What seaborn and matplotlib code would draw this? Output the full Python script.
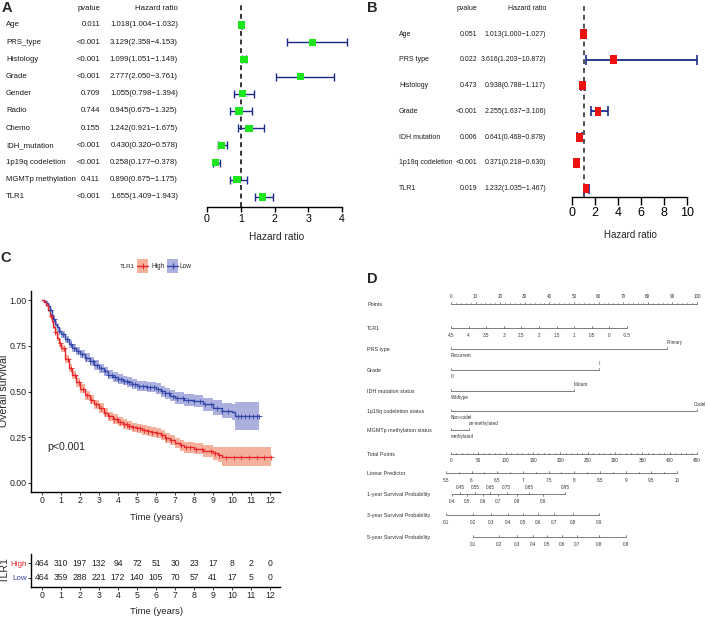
import numpy as np
import matplotlib
matplotlib.use("Agg")
import matplotlib.pyplot as plt
import seaborn as sns
from matplotlib.patches import Rectangle
from matplotlib.transforms import blended_transform_factory as blend

sns.set_style("white")
REG = ["Liberation Sans", "DejaVu Sans"]
plt.rcParams["font.family"] = REG
plt.rcParams["axes.unicode_minus"] = False

# ---------------- Panel A: univariate Cox ----------------
a_vars = ["Age", "PRS_type", "Histology", "Grade", "Gender", "Radio", "Chemo",
          "IDH_mutation", "1p19q codeletion", "MGMTp methylation", "TLR1"]
a_p = ["0.011", "<0.001", "<0.001", "<0.001", "0.709", "0.744", "0.155",
       "<0.001", "<0.001", "0.411", "<0.001"]
a_hr = [1.018, 3.129, 1.099, 2.777, 1.055, 0.945, 1.242, 0.430, 0.258, 0.890, 1.655]
a_lo = [1.004, 2.358, 1.051, 2.050, 0.798, 0.675, 0.921, 0.320, 0.177, 0.675, 1.409]
a_hi = [1.032, 4.153, 1.149, 3.761, 1.394, 1.325, 1.675, 0.578, 0.378, 1.175, 1.943]
a_ticks = [0, 1, 2, 3, 4]

# ---------------- Panel B: multivariate Cox ----------------
b_vars = ["Age", "PRS type", "Histology", "Grade", "IDH mutation", "1p19q codeletion", "TLR1"]
b_p = ["0.051", "0.022", "0.473", "<0.001", "0.006", "<0.001", "0.019"]
b_hr = [1.013, 3.616, 0.938, 2.255, 0.641, 0.371, 1.232]
b_lo = [1.000, 1.203, 0.788, 1.637, 0.468, 0.218, 1.035]
b_hi = [1.027, 10.872, 1.117, 3.106, 0.878, 0.630, 1.467]
b_ticks = [0, 2, 4, 6, 8, 10]

# ---------------- Panel C: Kaplan-Meier ----------------
t_high = [0, 0.1, 0.2, 0.3, 0.4, 0.5, 0.6, 0.7, 0.8, 0.9, 1.0, 1.2, 1.4, 1.6, 1.8,
          2.0, 2.25, 2.5, 2.75, 3.0, 3.25, 3.5, 3.75, 4.0, 4.25, 4.5, 4.75,
          5.0, 5.25, 5.5, 5.75, 6.0, 6.25, 6.5, 6.75, 7.0, 7.25, 7.5, 8.0, 8.5,
          9.0, 9.25, 9.5, 12.05]
s_high = [1.0, 0.99, 0.97, 0.945, 0.915, 0.885, 0.855, 0.825, 0.795, 0.765, 0.735, 0.68, 0.63, 0.59, 0.55,
          0.515, 0.48, 0.455, 0.43, 0.41, 0.385, 0.365, 0.35, 0.335, 0.322, 0.312, 0.305,
          0.298, 0.29, 0.285, 0.279, 0.272, 0.262, 0.248, 0.236, 0.218, 0.205, 0.195, 0.188, 0.175,
          0.163, 0.155, 0.144, 0.144]
ci_high = [0, 0.005, 0.008, 0.011, 0.013, 0.015, 0.016, 0.018, 0.019, 0.02, 0.021, 0.022, 0.023, 0.024, 0.024,
           0.025, 0.025, 0.025, 0.025, 0.025, 0.025, 0.025, 0.025, 0.025, 0.025, 0.025, 0.025,
           0.025, 0.026, 0.026, 0.026, 0.027, 0.027, 0.027, 0.028, 0.029, 0.03, 0.03, 0.031, 0.033,
           0.036, 0.04, 0.052, 0.052]
t_low = [0, 0.1, 0.2, 0.3, 0.4, 0.5, 0.6, 0.7, 0.8, 0.9, 1.0, 1.2, 1.4, 1.6, 1.8,
         2.0, 2.25, 2.5, 2.75, 3.0, 3.25, 3.5, 3.75, 4.0, 4.25, 4.5, 4.75,
         5.0, 5.5, 6.0, 6.25, 6.5, 6.75, 7.0, 7.5, 8.0, 8.5, 9.0, 9.5, 10.0, 10.15, 11.4]
s_low = [1.0, 0.995, 0.985, 0.968, 0.945, 0.92, 0.895, 0.87, 0.85, 0.83, 0.812, 0.785, 0.76, 0.74, 0.72,
         0.705, 0.685, 0.665, 0.645, 0.628, 0.61, 0.592, 0.578, 0.567, 0.56, 0.55, 0.54,
         0.532, 0.525, 0.515, 0.502, 0.49, 0.477, 0.466, 0.455, 0.448, 0.43, 0.412, 0.396, 0.388, 0.366, 0.366]
ci_low = [0, 0.004, 0.007, 0.01, 0.012, 0.014, 0.015, 0.016, 0.017, 0.018, 0.019, 0.02, 0.021, 0.022, 0.023,
          0.024, 0.024, 0.025, 0.025, 0.025, 0.026, 0.026, 0.026, 0.026, 0.027, 0.027, 0.027,
          0.028, 0.028, 0.029, 0.03, 0.03, 0.031, 0.032, 0.033, 0.034, 0.036, 0.039, 0.043, 0.046, 0.075, 0.075]
cens_high = [0.45, 0.7, 0.95, 1.15, 1.35, 1.55, 1.75, 1.95, 2.15, 2.35, 2.6, 2.85, 3.1, 3.3, 3.55, 3.8,
             3.95, 4.1, 4.3, 4.45, 4.6, 4.8, 5.0, 5.15, 5.35, 5.6, 5.8, 6.05, 6.3, 6.55, 6.8, 7.3,
             7.6, 7.8, 8.1, 8.4, 8.9, 9.1, 9.3, 9.7, 10.1, 10.5, 10.9, 11.3, 11.7, 12.05]
cens_low = [0.4, 0.65, 0.9, 1.1, 1.3, 1.5, 1.7, 1.9, 2.1, 2.3, 2.5, 2.7, 2.9, 3.1, 3.3, 3.5, 3.7, 3.85,
            4.0, 4.15, 4.3, 4.45, 4.6, 4.75, 4.9, 5.1, 5.3, 5.5, 5.7, 5.9, 6.1, 6.3, 6.5, 6.7, 6.9,
            7.1, 7.4, 7.7, 8.0, 8.3, 8.6, 8.9, 9.2, 9.5, 9.8, 10.3, 10.5, 10.7, 10.9, 11.1, 11.3, 11.4]
risk_times = list(range(13))
risk_high = [464, 310, 197, 132, 94, 72, 51, 30, 23, 17, 8, 2, 0]
risk_low = [464, 359, 288, 221, 172, 140, 105, 70, 57, 41, 17, 5, 0]
km_yticks = [0.0, 0.25, 0.5, 0.75, 1.0]
km_yticklabels = ["0.00", "0.25", "0.50", "0.75", "1.00"]

# ---------------- Panel D: nomogram ----------------
points_ticks = list(range(0, 101, 10))
tlr1_ticks = [4.5, 4, 3.5, 3, 2.5, 2, 1.5, 1, 0.5, 0, -0.5]
tlr1_labels = ["4.5", "4", "3.5", "3", "2.5", "2", "1.5", "1", "0.5", "0", "-0.5"]
tlr1_points_per_unit = 14.3
cat_rows = [("PRS type", "Recurrent", "Primary", 88.0),
            ("Grade", "III", "II", 60.2),
            ("IDH mutation status", "Wildtype", "Mutant", 50.0),
            ("1p19q codeletion status", "Non-codel", "Codel", 100.0),
            ("MGMTp methylation status", "methylated", "un-methylated", 7.5)]
total_ticks = list(range(0, 451, 50))
lp_ticks = [5.5, 6, 6.5, 7, 7.5, 8, 8.5, 9, 9.5, 10]
lp_at_zero_total = 5.6
lp_total_per_unit = 94.0
surv1_labels = ["0.4", "0.45", "0.5", "0.55", "0.6", "0.65", "0.7", "0.75", "0.8", "0.85", "0.9", "0.95"]
surv1_total = [2.4, 16.5, 29.8, 43.9, 58.0, 71.3, 85.4, 101.9, 120.2, 142.7, 168.8, 208.5]
surv3_labels = ["0.1", "0.2", "0.3", "0.4", "0.5", "0.6", "0.7", "0.8", "0.9"]
surv3_total = [-9.1, 40.8, 72.6, 103.7, 132.3, 159.7, 189.0, 222.6, 271.3]
surv5_labels = ["0.1", "0.2", "0.3", "0.4", "0.5", "0.6", "0.7", "0.8", "0.9"]
surv5_total = [40.8, 88.3, 120.2, 149.4, 176.1, 202.5, 231.0, 271.3, 319.6]

# ================= figure =================
W, H = 708, 620
fig = plt.figure(figsize=(W / 100, H / 100), dpi=100)
fig.patch.set_facecolor("white")


def frac(x0, y0, x1, y1):
    return [x0 / W, 1 - y1 / H, (x1 - x0) / W, (y1 - y0) / H]


cv = fig.add_axes([0, 0, 1, 1], zorder=-1)
cv.set_xlim(0, W)
cv.set_ylim(H, 0)
cv.axis("off")

NAVY = "#1b2a8a"
TXT = "#1a1a1a"

# panel letters
for letter, (lx, ly) in zip("ABCD", [(2, 8), (367, 8), (0, 258), (367, 279)]):
    cv.text(lx, ly, letter, fontsize=10.5, fontweight="bold", ha="left", va="center")

# ---------- A ----------
A_X0, A_U, A_R0, A_RG = 207, 33.75, 25, 17.2
axA = fig.add_axes(frac(190, 5, 355, 207))
axA.patch.set_visible(False)
axA.set_xlim((190 - A_X0) / A_U, (355 - A_X0) / A_U)
axA.set_ylim((207 - A_R0) / A_RG, (5 - A_R0) / A_RG)
rowsA = np.arange(len(a_vars))
hrA, loA, hiA = map(np.array, (a_hr, a_lo, a_hi))
axA.axvline(1, color="black", lw=1.1, ls=(0, (3.2, 2.4)), zorder=1)
axA.errorbar(hrA, rowsA, xerr=[hrA - loA, hiA - hrA], fmt="none", ecolor=NAVY,
             elinewidth=1.0, capsize=2.6, capthick=1.0, zorder=2)
sns.scatterplot(x=hrA, y=rowsA, marker="s", s=27, color="#1ee61e", edgecolor="none",
                ax=axA, zorder=3, legend=False)
for sp in ["top", "right", "left"]:
    axA.spines[sp].set_visible(False)
axA.spines["bottom"].set_bounds(a_ticks[0], a_ticks[-1])
axA.spines["bottom"].set_color("black")
axA.spines["bottom"].set_linewidth(1.0)
axA.set_xticks(a_ticks)
axA.set_xticklabels([str(t) for t in a_ticks])
axA.set_yticks([])
axA.set_xlabel("")
axA.set_ylabel("")
axA.tick_params(axis="x", direction="out", length=3.8, width=1.0, labelsize=7.7, pad=1.5,
                colors="black", bottom=True)
trA = blend(cv.transData, axA.transData)
FA = 5.6
for i, (v, p, h, l, u) in enumerate(zip(a_vars, a_p, a_hr, a_lo, a_hi)):
    axA.text(6, i, v, transform=trA, ha="left", va="center", fontsize=FA, color=TXT)
    axA.text(100, i, p, transform=trA, ha="right", va="center", fontsize=FA, color=TXT)
    axA.text(178, i, f"{h:.3f}({l:.3f}\u2212{u:.3f})", transform=trA, ha="right", va="center",
             fontsize=FA, color=TXT)
cv.text(100, 8.5, "pvalue", ha="right", va="center", fontsize=FA, color=TXT)
cv.text(178, 8.5, "Hazard ratio", ha="right", va="center", fontsize=FA, color=TXT)
cv.text(277, 237, "Hazard ratio", ha="center", va="center", fontsize=7.3)

# ---------- B ----------
B_X0, B_U, B_R0, B_RG = 572, 11.5, 34, 25.8
axB = fig.add_axes(frac(560, 5, 705, 197))
axB.patch.set_visible(False)
axB.set_xlim((560 - B_X0) / B_U, (705 - B_X0) / B_U)
axB.set_ylim((197 - B_R0) / B_RG, (5 - B_R0) / B_RG)
rowsB = np.arange(len(b_vars))
hrB, loB, hiB = map(np.array, (b_hr, b_lo, b_hi))
axB.axvline(1, color="#222222", lw=1.1, ls=(0, (3.2, 2.6)), zorder=1)
axB.errorbar(hrB, rowsB, xerr=[hrB - loB, hiB - hrB], fmt="none", ecolor=NAVY,
             elinewidth=1.3, capsize=3.8, capthick=1.2, zorder=2, clip_on=False)
rect_marker = [(-0.72, -1), (0.72, -1), (0.72, 1), (-0.72, 1), (-0.72, -1)]
axB.scatter(hrB, rowsB, marker=rect_marker, s=44, color="#ee1111", edgecolor="none", zorder=3)
for sp in ["top", "right", "left"]:
    axB.spines[sp].set_visible(False)
axB.spines["bottom"].set_bounds(b_ticks[0], b_ticks[-1])
axB.spines["bottom"].set_color("black")
axB.spines["bottom"].set_linewidth(1.0)
axB.set_xticks(b_ticks)
axB.set_xticklabels([str(t) for t in b_ticks])
axB.set_yticks([])
axB.tick_params(axis="x", direction="out", length=6.0, width=1.0, labelsize=9.0, pad=1.5,
                colors="black", bottom=True)
trB = blend(cv.transData, axB.transData)
FB = 5.0
for i, (v, p, h, l, u) in enumerate(zip(b_vars, b_p, b_hr, b_lo, b_hi)):
    axB.text(399, i, v, transform=trB, ha="left", va="center", fontsize=FB, color=TXT)
    axB.text(477, i, p, transform=trB, ha="right", va="center", fontsize=FB, color=TXT)
    axB.text(546, i, f"{h:.3f}({l:.3f}\u2212{u:.3f})", transform=trB, ha="right", va="center",
             fontsize=FB, color=TXT)
cv.text(477, 9, "pvalue", ha="right", va="center", fontsize=FB, color=TXT)
cv.text(546, 9, "Hazard ratio", ha="right", va="center", fontsize=FB, color=TXT)
cv.text(630, 235, "Hazard ratio", ha="center", va="center", fontsize=7.0)

# ---------- C: KM ----------
RED, RED_BAND = "#e8262b", "#f6b19c"
BLUE, BLUE_BAND = "#3346a8", "#abb0df"
C_X0, C_U, C_Y0, C_U_Y = 42, 19.0, 483, 183.0
axC = fig.add_axes(frac(31, 291, 280, 492))
axC.patch.set_visible(False)
axC.set_xlim((31 - C_X0) / C_U, (280 - C_X0) / C_U)
axC.set_ylim((C_Y0 - 492) / C_U_Y, (C_Y0 - 291) / C_U_Y)


def step_at(tt, ss, x):
    idx = np.searchsorted(np.asarray(tt), np.asarray(x), side="right") - 1
    return np.asarray(ss)[np.clip(idx, 0, len(ss) - 1)]


for tt, ss, cc, line_c, band_c, cens in [
        (t_low, s_low, ci_low, BLUE, BLUE_BAND, cens_low),
        (t_high, s_high, ci_high, RED, RED_BAND, cens_high)]:
    tt, ss, cc = map(np.array, (tt, ss, cc))
    axC.fill_between(tt, ss - cc, ss + cc, step="post", color=band_c, lw=0, zorder=1)
    sns.lineplot(x=tt, y=ss, ax=axC, color=line_c, lw=1.0, drawstyle="steps-post",
                 estimator=None, zorder=3, legend=False)
    axC.plot(cens, step_at(tt, ss, cens), ls="none", marker="+", ms=3.6, mew=0.6,
             color=line_c, zorder=4)
for sp in ["top", "right"]:
    axC.spines[sp].set_visible(False)
for sp in ["left", "bottom"]:
    axC.spines[sp].set_color("black")
    axC.spines[sp].set_linewidth(1.0)
axC.set_xticks(risk_times)
axC.set_xticklabels([str(t) for t in risk_times])
axC.set_yticks(km_yticks)
axC.set_yticklabels(km_yticklabels)
axC.set_xlabel("")
axC.set_ylabel("")
axC.tick_params(axis="both", direction="out", length=2.0, width=0.7, labelsize=6.3, pad=1.0,
                colors="#333333", labelcolor="#222222", left=True, bottom=True)
cv.text(157, 517, "Time (years)", ha="center", va="center", fontsize=6.8)
cv.text(4.5, 391, "Overall survival", ha="center", va="center", rotation=90, fontsize=7.6)
cv.text(47, 447, "p<0.001", ha="left", va="center", fontsize=7.6)
# legend
cv.text(127, 266, "TLR1", ha="center", va="center", fontsize=4.4)
for kx, tx, lab, lc, bc in [(137, 151, "High", RED, RED_BAND), (167, 180, "Low", BLUE, BLUE_BAND)]:
    cv.add_patch(Rectangle((kx, 259), 11, 14, facecolor=bc, edgecolor="none"))
    cv.plot([kx, kx + 11], [266, 266], color=lc, lw=1.0)
    cv.plot([kx + 5.5], [266], marker="+", ms=4.5, mew=0.8, color=lc)
    cv.text(tx, 266, lab, ha="left", va="center", fontsize=4.7)

# ---------- C: risk table ----------
axR = fig.add_axes(frac(31, 554, 280, 587))
axR.patch.set_visible(False)
axR.set_xlim(axC.get_xlim())
axR.set_ylim(-0.6, 1.6)
for t, nh, nl in zip(risk_times, risk_high, risk_low):
    axR.text(t, 1, str(nh), ha="center", va="center", fontsize=6.2, color="#222222")
    axR.text(t, 0, str(nl), ha="center", va="center", fontsize=6.2, color="#222222")
for sp in ["top", "right"]:
    axR.spines[sp].set_visible(False)
for sp in ["left", "bottom"]:
    axR.spines[sp].set_color("black")
    axR.spines[sp].set_linewidth(1.0)
axR.set_xticks(risk_times)
axR.set_xticklabels([str(t) for t in risk_times])
axR.set_yticks([0, 1])
axR.set_yticklabels(["Low", "High"])
axR.tick_params(axis="both", direction="out", length=2.0, width=0.7, labelsize=6.3, pad=1.0,
                colors="#333333", labelcolor="#222222", left=True, bottom=True)
for lab, col in zip(axR.get_yticklabels(), [BLUE, RED]):
    lab.set_color(col)
    lab.set_fontsize(5.8)
cv.text(157, 611, "Time (years)", ha="center", va="center", fontsize=6.8)
cv.text(5, 570, "TLR1", ha="center", va="center", rotation=90, fontsize=7.6)

# ---------- D: nomogram ----------
D_X0, D_U = 451, 2.46
axD = fig.add_axes(frac(360, 285, 708, 560))
axD.patch.set_visible(False)
axD.set_xlim((360 - D_X0) / D_U, (708 - D_X0) / D_U)
axD.set_ylim(560, 285)
axD.axis("off")
NC = "#4a4a4a"
FS_ROW, FS_TICK = 3.9, 3.3


def nomo_line(y, lo, hi):
    axD.plot([lo, hi], [y, y], color=NC, lw=0.5, solid_capstyle="butt")


def nomo_ticks(y, pos, up=True, length=1.6):
    d = -length if up else length
    for p in pos:
        axD.plot([p, p], [y, y + d], color=NC, lw=0.45)


def nomo_labels(y, pos, labels, above, off=7.0, ha="center"):
    yy = y - off if above else y + off
    for p, s in zip(pos, labels):
        axD.text(p, yy, s, ha=ha, va="center", fontsize=FS_TICK, color="#333333")


def row_label(y, s):
    axD.text((367 - D_X0) / D_U, y + 0.5, s, ha="left", va="center", fontsize=FS_ROW, color="#333333")


# Points
y = 304
row_label(y, "Points")
nomo_line(y, points_ticks[0], points_ticks[-1])
nomo_ticks(y, points_ticks, up=True, length=2.0)
nomo_ticks(y, [p for p in np.arange(0, 101, 2) if p % 10], up=True, length=1.0)
nomo_labels(y, points_ticks, [str(p) for p in points_ticks], above=True, off=8)

# TLR1
y = 328
tlr_pos = [(tlr1_ticks[0] - v) * tlr1_points_per_unit for v in tlr1_ticks]
row_label(y, "TLR1")
nomo_line(y, min(tlr_pos), max(tlr_pos))
nomo_ticks(y, tlr_pos, up=True, length=1.6)
nomo_labels(y, tlr_pos, tlr1_labels, above=False, off=7)

# categorical rows
for y, (name, lev0, lev1, pts) in zip([349, 370, 391, 411, 430], cat_rows):
    row_label(y, name)
    nomo_line(y, 0, pts)
    nomo_ticks(y, [0, pts], up=True, length=1.6)
    nomo_labels(y, [0], [lev0], above=False, off=6.5, ha="left")
    shift = 1.2 if lev1 == "Codel" else 0.3
    nomo_labels(y, [pts - shift], [lev1], above=True, off=7, ha="left")

# Total points
y = 454
tot_pos = [t / 4.5 for t in total_ticks]
row_label(y, "Total Points")
nomo_line(y, min(tot_pos), max(tot_pos))
nomo_ticks(y, tot_pos, up=True, length=2.0)
nomo_ticks(y, [t / 4.5 for t in range(0, 451, 10) if t % 50], up=True, length=1.0)
nomo_labels(y, tot_pos, [str(t) for t in total_ticks], above=False, off=6.5)

# Linear predictor
y = 473
lp_pos = [(v - lp_at_zero_total) * lp_total_per_unit / 4.5 for v in lp_ticks]
row_label(y, "Linear Predictor")
nomo_line(y, min(lp_pos), max(lp_pos))
nomo_ticks(y, lp_pos, up=True, length=1.6)
nomo_ticks(y, [(v + 0.25 - lp_at_zero_total) * lp_total_per_unit / 4.5 for v in lp_ticks[:-1]],
           up=True, length=1.0)
nomo_labels(y, lp_pos, [("%g" % v) for v in lp_ticks], above=False, off=7)

# survival probabilities
y = 494
s1_pos = [t / 4.5 for t in surv1_total]
row_label(y, "1-year Survival Probability")
nomo_line(y, min(s1_pos), max(s1_pos))
nomo_ticks(y, s1_pos[1::2], up=True, length=1.6)
nomo_ticks(y, s1_pos[0::2], up=False, length=1.6)
nomo_labels(y, s1_pos[1::2], surv1_labels[1::2], above=True, off=7)
nomo_labels(y, s1_pos[0::2], surv1_labels[0::2], above=False, off=7.5)

for y, lbls, tots, name in [(515, surv3_labels, surv3_total, "3-year Survival Probability"),
                            (537, surv5_labels, surv5_total, "5-year Survival Probability")]:
    pos = [t / 4.5 for t in tots]
    row_label(y, name)
    nomo_line(y, min(pos), max(pos))
    nomo_ticks(y, pos, up=True, length=1.6)
    nomo_labels(y, pos, lbls, above=False, off=7)

fig.savefig("out.png", dpi=100, facecolor="white")
